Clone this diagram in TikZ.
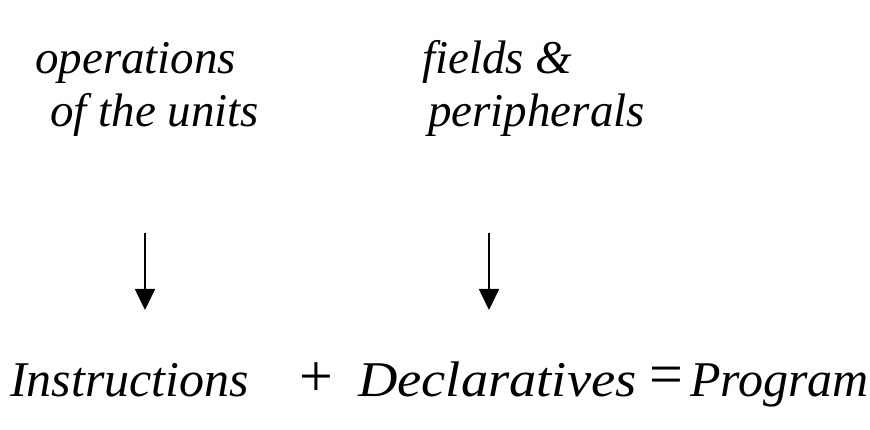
\documentclass[tikz,border=0pt]{standalone}
\usepackage{fontspec}
\setmainfont{Liberation Serif}
\usetikzlibrary{arrows.meta}
\begin{document}
\begin{tikzpicture}[x=1pt,y=1pt,
  toplabel/.style={anchor=base west,inner sep=0pt,font=\fontsize{47}{52}\selectfont\itshape},
  botlabel/.style={anchor=base west,inner sep=0pt,font=\fontsize{50}{56}\selectfont\itshape},
  opsym/.style={inner sep=0pt,font=\fontsize{60}{64}\selectfont},
  downarrow/.style={line width=1.8pt,-{Triangle[width=20pt,length=21pt]}}]
\useasboundingbox (0,0) rectangle (870,430);
\node[toplabel] (op) at (35,356) {operations};
\node[toplabel] (ofu) at (50,303) {of the units};
\node[toplabel] (fi) at (422,356) {fields \&};
\node[toplabel] (pe) at (428,303) {peripherals};
\node[botlabel] (ins) at (10,33) {Instructions};
\node[opsym] (plus) at (316,50) {+};
\node[botlabel] (dec) at (358,33) {\scalebox{1.09}[1]{Declaratives}};
\node[opsym] (eq) at (666,49) {=};
\node[botlabel] (prg) at (690,33) {Program};
\coordinate (a1s) at (145,197);
\coordinate (a1e) at (145,120);
\coordinate (a2s) at (489,197);
\coordinate (a2e) at (489,120);
\draw[downarrow] (a1s) -- (a1e);
\draw[downarrow] (a2s) -- (a2e);
\end{tikzpicture}
\end{document}
